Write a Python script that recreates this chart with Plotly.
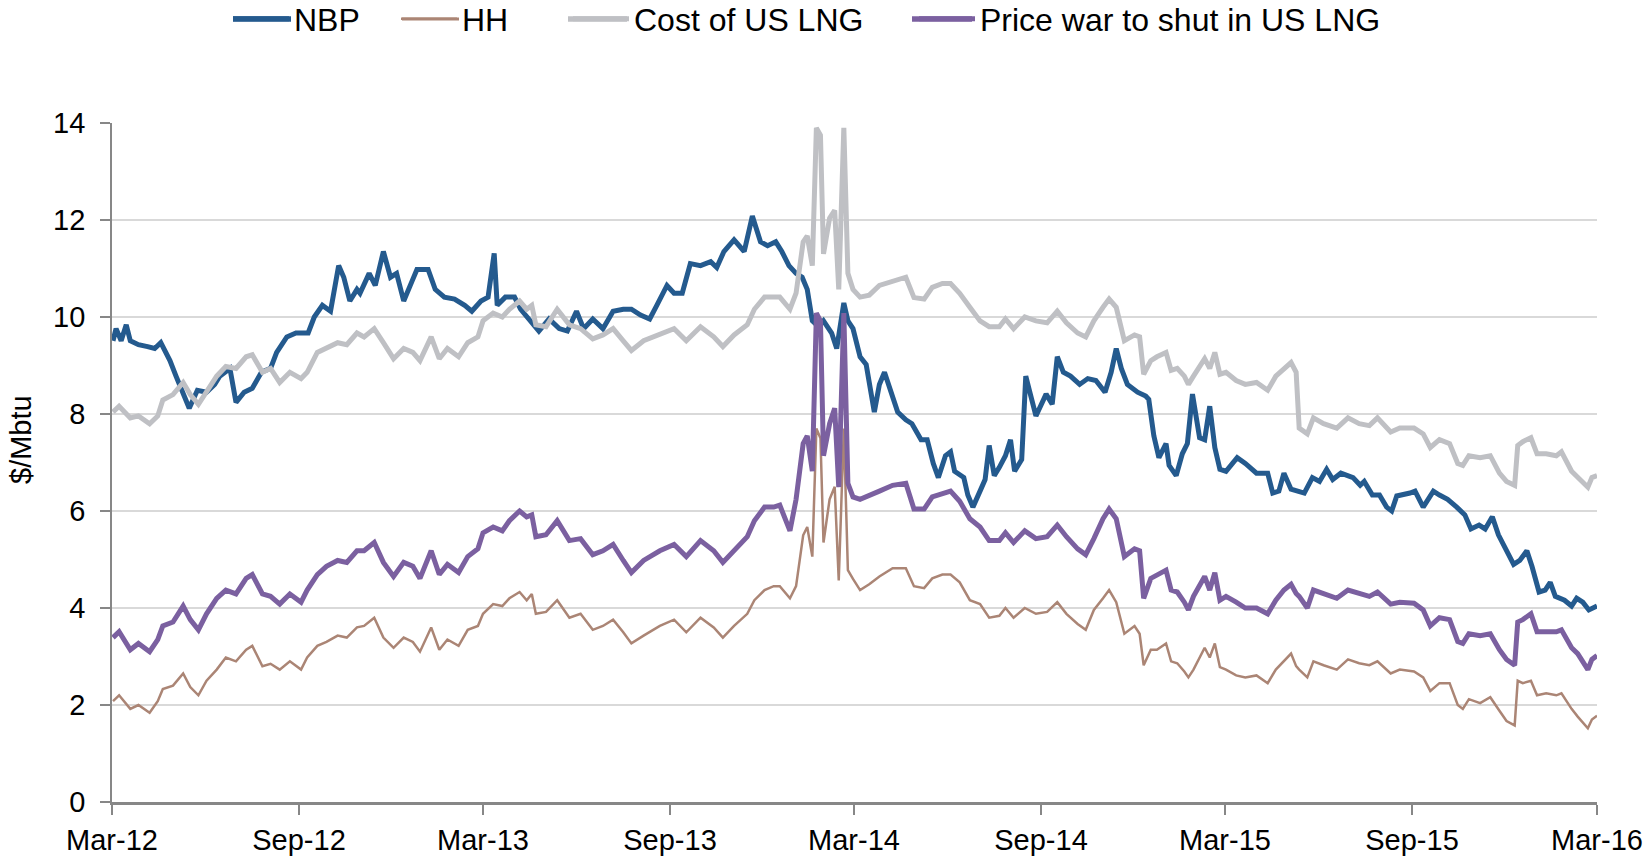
import plotly.graph_objects as go

# ---------------- data ----------------
common_dates = [
    "2012-03-02", "2012-03-08", "2012-03-19", "2012-03-27", "2012-04-07", "2012-04-15", "2012-04-20", "2012-04-30",
    "2012-05-10", "2012-05-17", "2012-05-25", "2012-06-02", "2012-06-12", "2012-06-21", "2012-07-01", "2012-07-11",
    "2012-07-17", "2012-07-27", "2012-08-04", "2012-08-13", "2012-08-23", "2012-09-03", "2012-09-09", "2012-09-19",
    "2012-09-28", "2012-10-09", "2012-10-18", "2012-10-28", "2012-11-04", "2012-11-14", "2012-11-23", "2012-12-03",
    "2012-12-13", "2012-12-22", "2012-12-29", "2013-01-09", "2013-01-17", "2013-01-25", "2013-02-05", "2013-02-14",
    "2013-02-24", "2013-03-01", "2013-03-11", "2013-03-20", "2013-03-27", "2013-04-06", "2013-04-13", "2013-04-18",
    "2013-04-22", "2013-05-02", "2013-05-13", "2013-05-25", "2013-06-05", "2013-06-17", "2013-06-27", "2013-07-07",
    "2013-07-17", "2013-07-25", "2013-08-06", "2013-08-22", "2013-09-05", "2013-09-17", "2013-10-01", "2013-10-14",
    "2013-10-23", "2013-11-03", "2013-11-16", "2013-11-23", "2013-12-03", "2013-12-12", "2013-12-18", "2013-12-28",
    "2014-01-03", "2014-01-10", "2014-01-14", "2014-01-19", "2014-01-23", "2014-01-27", "2014-01-30", "2014-02-05",
    "2014-02-10", "2014-02-14", "2014-02-19", "2014-02-23", "2014-02-28", "2014-03-07", "2014-03-16", "2014-03-26",
    "2014-04-08", "2014-04-21", "2014-04-29", "2014-05-09", "2014-05-17", "2014-05-27", "2014-06-04", "2014-06-13",
    "2014-06-23", "2014-07-03", "2014-07-12", "2014-07-22", "2014-07-28", "2014-08-05", "2014-08-16", "2014-08-27",
    "2014-09-07", "2014-09-17", "2014-09-26", "2014-10-07", "2014-10-15", "2014-10-23", "2014-11-01", "2014-11-07",
    "2014-11-14", "2014-11-22", "2014-12-02", "2014-12-07", "2014-12-11", "2014-12-18", "2014-12-24", "2015-01-02",
    "2015-01-07", "2015-01-13", "2015-01-20", "2015-01-24", "2015-01-29", "2015-02-09", "2015-02-14", "2015-02-19",
    "2015-02-24", "2015-03-02", "2015-03-12", "2015-03-21", "2015-04-01", "2015-04-12", "2015-04-20", "2015-04-28",
    "2015-05-05", "2015-05-10", "2015-05-13", "2015-05-21", "2015-05-27", "2015-06-06", "2015-06-19", "2015-06-30",
    "2015-07-11", "2015-07-21", "2015-07-29", "2015-08-11", "2015-08-20", "2015-09-03", "2015-09-12", "2015-09-19",
    "2015-09-28", "2015-10-08", "2015-10-16", "2015-10-21", "2015-10-27", "2015-11-07", "2015-11-17", "2015-11-26",
    "2015-12-03", "2015-12-11", "2015-12-14", "2015-12-19", "2015-12-27", "2016-01-02", "2016-01-11", "2016-01-21",
    "2016-01-26", "2016-02-05", "2016-02-11", "2016-02-21", "2016-02-25", "2016-03-01",
]

hh = [
    2.08, 2.20, 1.92, 2.00, 1.84, 2.08, 2.33, 2.40,
    2.65, 2.37, 2.20, 2.50, 2.73, 2.98, 2.90, 3.14,
    3.22, 2.80, 2.85, 2.73, 2.90, 2.73, 2.98, 3.22,
    3.30, 3.43, 3.39, 3.60, 3.63, 3.80, 3.39, 3.18,
    3.39, 3.30, 3.10, 3.60, 3.14, 3.35, 3.22, 3.55,
    3.63, 3.88, 4.08, 4.04, 4.20, 4.33, 4.16, 4.29,
    3.88, 3.92, 4.16, 3.80, 3.88, 3.55, 3.63, 3.76,
    3.50, 3.27, 3.43, 3.63, 3.76, 3.50, 3.80, 3.60,
    3.39, 3.63, 3.88, 4.16, 4.37, 4.45, 4.45, 4.20,
    4.45, 5.50, 5.67, 5.06, 7.70, 7.50, 5.35, 6.24,
    6.50, 4.57, 7.70, 4.78, 4.60, 4.37, 4.49, 4.65,
    4.82, 4.82, 4.45, 4.41, 4.61, 4.69, 4.69, 4.53,
    4.16, 4.08, 3.80, 3.84, 4.00, 3.80, 4.00, 3.88,
    3.92, 4.12, 3.88, 3.67, 3.55, 3.96, 4.20, 4.37,
    4.12, 3.47, 3.63, 3.47, 2.82, 3.14, 3.14, 3.27,
    2.90, 2.86, 2.69, 2.57, 2.73, 3.18, 2.98, 3.27,
    2.78, 2.73, 2.61, 2.57, 2.61, 2.45, 2.73, 2.90,
    3.06, 2.80, 2.73, 2.57, 2.90, 2.82, 2.73, 2.94,
    2.86, 2.82, 2.90, 2.65, 2.73, 2.69, 2.57, 2.29,
    2.45, 2.45, 2.00, 1.92, 2.12, 2.04, 2.16, 1.88,
    1.67, 1.58, 2.50, 2.45, 2.50, 2.20, 2.24, 2.20,
    2.24, 1.92, 1.76, 1.52, 1.70, 1.78,
]

cost_us_lng = [
    8.04, 8.16, 7.92, 7.96, 7.80, 7.96, 8.29, 8.40,
    8.65, 8.40, 8.20, 8.45, 8.78, 8.98, 8.94, 9.18,
    9.22, 8.86, 8.94, 8.65, 8.86, 8.73, 8.86, 9.27,
    9.35, 9.47, 9.43, 9.67, 9.59, 9.76, 9.47, 9.14,
    9.35, 9.27, 9.10, 9.59, 9.14, 9.35, 9.18, 9.47,
    9.59, 9.92, 10.08, 10.00, 10.16, 10.33, 10.16, 10.24,
    9.84, 9.80, 10.16, 9.84, 9.76, 9.55, 9.63, 9.76,
    9.51, 9.31, 9.51, 9.63, 9.76, 9.51, 9.80, 9.59,
    9.39, 9.63, 9.84, 10.16, 10.41, 10.41, 10.41, 10.16,
    10.49, 11.55, 11.67, 11.06, 13.90, 13.75, 11.30, 12.04,
    12.20, 10.57, 13.90, 10.90, 10.57, 10.41, 10.45, 10.65,
    10.73, 10.82, 10.40, 10.37, 10.61, 10.69, 10.69, 10.49,
    10.20, 9.92, 9.80, 9.80, 9.96, 9.76, 10.00, 9.92,
    9.88, 10.12, 9.88, 9.67, 9.59, 9.92, 10.20, 10.37,
    10.20, 9.51, 9.63, 9.59, 8.82, 9.10, 9.18, 9.27,
    8.90, 8.94, 8.78, 8.61, 8.78, 9.14, 8.94, 9.27,
    8.82, 8.86, 8.69, 8.61, 8.65, 8.49, 8.78, 8.94,
    9.06, 8.86, 7.71, 7.59, 7.92, 7.80, 7.71, 7.92,
    7.80, 7.76, 7.92, 7.63, 7.71, 7.71, 7.59, 7.31,
    7.47, 7.39, 6.98, 6.94, 7.14, 7.10, 7.14, 6.78,
    6.61, 6.53, 7.35, 7.43, 7.51, 7.18, 7.18, 7.14,
    7.22, 6.82, 6.69, 6.49, 6.69, 6.73,
]

price_war = [
    3.39, 3.51, 3.14, 3.27, 3.10, 3.35, 3.63, 3.71,
    4.04, 3.76, 3.55, 3.88, 4.20, 4.37, 4.29, 4.61,
    4.69, 4.29, 4.24, 4.08, 4.29, 4.12, 4.37, 4.69,
    4.86, 4.98, 4.94, 5.18, 5.18, 5.35, 4.94, 4.65,
    4.94, 4.86, 4.61, 5.18, 4.69, 4.90, 4.73, 5.06,
    5.22, 5.55, 5.67, 5.59, 5.80, 6.00, 5.88, 5.92,
    5.47, 5.51, 5.80, 5.39, 5.43, 5.10, 5.18, 5.31,
    4.98, 4.73, 4.98, 5.18, 5.31, 5.06, 5.39, 5.18,
    4.94, 5.18, 5.47, 5.80, 6.08, 6.08, 6.12, 5.59,
    6.24, 7.39, 7.55, 6.82, 10.08, 9.92, 7.14, 7.80,
    8.12, 6.49, 10.08, 6.57, 6.29, 6.24, 6.33, 6.41,
    6.53, 6.57, 6.04, 6.04, 6.29, 6.37, 6.41, 6.20,
    5.84, 5.67, 5.39, 5.39, 5.55, 5.35, 5.59, 5.43,
    5.47, 5.71, 5.47, 5.22, 5.10, 5.43, 5.84, 6.04,
    5.84, 5.06, 5.22, 5.18, 4.20, 4.61, 4.69, 4.78,
    4.37, 4.33, 4.12, 3.96, 4.24, 4.65, 4.37, 4.73,
    4.16, 4.24, 4.12, 4.00, 4.00, 3.88, 4.16, 4.37,
    4.49, 4.30, 4.24, 4.00, 4.37, 4.29, 4.20, 4.37,
    4.29, 4.24, 4.33, 4.08, 4.12, 4.10, 3.96, 3.63,
    3.80, 3.76, 3.31, 3.27, 3.47, 3.43, 3.47, 3.14,
    2.94, 2.82, 3.71, 3.76, 3.88, 3.51, 3.51, 3.51,
    3.55, 3.18, 3.06, 2.73, 2.94, 3.02,
]

nbp_dates = [
    "2012-03-02", "2012-03-05", "2012-03-10", "2012-03-15", "2012-03-19", "2012-03-27", "2012-04-05", "2012-04-12",
    "2012-04-18", "2012-04-27", "2012-05-03", "2012-05-10", "2012-05-16", "2012-05-24", "2012-06-02", "2012-06-10",
    "2012-06-15", "2012-06-25", "2012-07-01", "2012-07-09", "2012-07-17", "2012-07-26", "2012-08-04", "2012-08-10",
    "2012-08-20", "2012-08-29", "2012-09-10", "2012-09-16", "2012-09-24", "2012-10-02", "2012-10-10", "2012-10-15",
    "2012-10-21", "2012-10-28", "2012-10-31", "2012-11-09", "2012-11-15", "2012-11-23", "2012-11-30", "2012-12-06",
    "2012-12-13", "2012-12-21", "2012-12-26", "2013-01-06", "2013-01-13", "2013-01-22", "2013-02-01", "2013-02-11",
    "2013-02-18", "2013-02-27", "2013-03-06", "2013-03-12", "2013-03-15", "2013-03-23", "2013-04-01", "2013-04-07",
    "2013-04-15", "2013-04-25", "2013-05-05", "2013-05-15", "2013-05-23", "2013-06-01", "2013-06-08", "2013-06-17",
    "2013-06-27", "2013-07-07", "2013-07-17", "2013-07-25", "2013-08-03", "2013-08-12", "2013-08-19", "2013-08-29",
    "2013-09-05", "2013-09-13", "2013-09-21", "2013-10-01", "2013-10-11", "2013-10-17", "2013-10-24", "2013-11-03",
    "2013-11-13", "2013-11-21", "2013-11-29", "2013-12-06", "2013-12-14", "2013-12-20", "2013-12-27", "2014-01-03",
    "2014-01-09", "2014-01-14", "2014-01-19", "2014-01-25", "2014-01-30", "2014-02-07", "2014-02-12", "2014-02-16",
    "2014-02-19", "2014-02-23", "2014-02-28", "2014-03-07", "2014-03-13", "2014-03-21", "2014-03-26", "2014-03-31",
    "2014-04-05", "2014-04-13", "2014-04-21", "2014-04-27", "2014-05-06", "2014-05-12", "2014-05-18", "2014-05-23",
    "2014-05-30", "2014-06-04", "2014-06-08", "2014-06-17", "2014-06-21", "2014-06-26", "2014-07-03", "2014-07-08",
    "2014-07-12", "2014-07-17", "2014-07-22", "2014-07-28", "2014-08-02", "2014-08-06", "2014-08-13", "2014-08-17",
    "2014-08-21", "2014-08-27", "2014-09-06", "2014-09-12", "2014-09-17", "2014-09-23", "2014-09-30", "2014-10-09",
    "2014-10-17", "2014-10-25", "2014-11-03", "2014-11-09", "2014-11-14", "2014-11-19", "2014-11-25", "2014-12-05",
    "2014-12-13", "2014-12-16", "2014-12-21", "2014-12-26", "2015-01-02", "2015-01-05", "2015-01-12", "2015-01-18",
    "2015-01-23", "2015-01-28", "2015-02-04", "2015-02-09", "2015-02-14", "2015-02-19", "2015-02-24", "2015-03-02",
    "2015-03-13", "2015-03-21", "2015-04-01", "2015-04-12", "2015-04-17", "2015-04-23", "2015-04-28", "2015-05-05",
    "2015-05-18", "2015-05-26", "2015-06-02", "2015-06-09", "2015-06-15", "2015-06-23", "2015-07-05", "2015-07-12",
    "2015-07-16", "2015-07-24", "2015-07-31", "2015-08-07", "2015-08-12", "2015-08-17", "2015-08-30", "2015-09-04",
    "2015-09-12", "2015-09-22", "2015-09-28", "2015-10-06", "2015-10-15", "2015-10-23", "2015-10-29", "2015-11-06",
    "2015-11-12", "2015-11-19", "2015-11-25", "2015-12-03", "2015-12-10", "2015-12-16", "2015-12-23", "2015-12-28",
    "2016-01-04", "2016-01-10", "2016-01-15", "2016-01-20", "2016-01-29", "2016-02-05", "2016-02-10", "2016-02-16",
    "2016-02-22", "2016-03-01",
]

nbp = [
    9.51, 9.76, 9.51, 9.84, 9.51, 9.43, 9.39, 9.35,
    9.47, 9.10, 8.78, 8.41, 8.12, 8.49, 8.45, 8.61,
    8.78, 8.94, 8.24, 8.45, 8.53, 8.86, 8.94, 9.27,
    9.59, 9.67, 9.67, 10.00, 10.24, 10.12, 11.06, 10.82,
    10.33, 10.57, 10.49, 10.90, 10.65, 11.35, 10.82, 10.90,
    10.33, 10.73, 10.98, 10.98, 10.57, 10.41, 10.37, 10.24,
    10.12, 10.33, 10.41, 11.31, 10.24, 10.41, 10.41, 10.16,
    9.96, 9.71, 9.96, 9.76, 9.71, 10.12, 9.76, 9.96,
    9.76, 10.12, 10.16, 10.16, 10.04, 9.96, 10.24, 10.65,
    10.49, 10.49, 11.10, 11.06, 11.14, 11.02, 11.35, 11.59,
    11.35, 12.08, 11.55, 11.47, 11.55, 11.35, 11.06, 10.90,
    10.82, 10.57, 9.92, 9.80, 9.92, 9.67, 9.35, 10.00,
    10.29, 9.92, 9.76, 9.18, 9.02, 8.04, 8.61, 8.86,
    8.53, 8.04, 7.88, 7.80, 7.47, 7.47, 6.98, 6.69,
    7.14, 7.22, 6.82, 6.69, 6.33, 6.08, 6.41, 6.65,
    7.35, 6.73, 6.90, 7.14, 7.47, 6.82, 7.06, 8.78,
    8.45, 7.96, 8.41, 8.20, 9.18, 8.86, 8.78, 8.61,
    8.73, 8.69, 8.45, 8.86, 9.35, 8.94, 8.61, 8.45,
    8.37, 8.30, 7.55, 7.10, 7.39, 6.94, 6.73, 7.18,
    7.39, 8.41, 7.51, 7.47, 8.16, 7.31, 6.86, 6.82,
    7.10, 6.98, 6.78, 6.78, 6.37, 6.41, 6.78, 6.45,
    6.37, 6.69, 6.61, 6.86, 6.65, 6.78, 6.69, 6.53,
    6.61, 6.33, 6.33, 6.08, 6.00, 6.31, 6.37, 6.41,
    6.08, 6.41, 6.33, 6.24, 6.08, 5.92, 5.63, 5.71,
    5.63, 5.88, 5.51, 5.18, 4.90, 4.98, 5.18, 4.86,
    4.33, 4.37, 4.53, 4.24, 4.16, 4.04, 4.20, 4.12,
    3.96, 4.04,
]

series_names = ["NBP", "HH", "Cost of US LNG", "Price war to shut in US LNG"]

tick_dates = ["2012-03-01", "2012-09-01", "2013-03-01", "2013-09-01", "2014-03-01",
              "2014-09-01", "2015-03-01", "2015-09-01", "2016-03-01"]
tick_labels = ["Mar-12", "Sep-12", "Mar-13", "Sep-13", "Mar-14",
               "Sep-14", "Mar-15", "Sep-15", "Mar-16"]

# ---------------- styling ----------------
FONT = "Liberation Sans, Arial, sans-serif"
AXIS_GREY = "#878787"
COLORS = ["#245A8E", "#AB8575", "#BFC0C4", "#7B60A0"]
WIDTHS = [5, 2.5, 5, 5]

W, H = 1648, 860
M_L, M_R, M_T, M_B = 112, 51, 123, 58
PLOT_W = W - M_L - M_R
PLOT_H = H - M_T - M_B

# legend layout (pixels in the page): sample-line start, sample-line end, text start
LEG_LINE_START = [233, 402, 568, 912]
LEG_LINE_END = [291, 459, 627, 972]
LEG_TEXT_START = [294, 462, 634, 980]
LEG_Y = 19
ITEMWIDTH = 56
TEXT_OFFSET = ITEMWIDTH + 10  # distance from legend box left to text start


def px_to_paper_x(px):
    return (px - M_L) / PLOT_W


def px_to_paper_y(py):
    return (H - M_B - py) / PLOT_H


fig = go.Figure()
xs = [nbp_dates, common_dates, common_dates, common_dates]
ys = [nbp, hh, cost_us_lng, price_war]
legend_ids = ["legend", "legend2", "legend3", "legend4"]
for name, x, y, c, w, lid in zip(series_names, xs, ys, COLORS, WIDTHS, legend_ids):
    fig.add_trace(go.Scatter(x=x, y=y, name=name, mode="lines",
                             line=dict(color=c, width=w), legend=lid))

legend_layouts = {}
for i, lid in enumerate(legend_ids):
    legend_layouts[lid] = dict(
        orientation="h", xref="container", yref="container",
        x=(LEG_TEXT_START[i] - TEXT_OFFSET) / W, xanchor="left",
        y=1 - LEG_Y / H, yanchor="middle",
        font=dict(family=FONT, size=32, color="#000000"),
        itemwidth=ITEMWIDTH, bgcolor="rgba(0,0,0,0)", borderwidth=0,
    )

shapes = []
for i in range(4):
    shapes.append(dict(type="line", xref="paper", yref="paper",
                       x0=px_to_paper_x(LEG_LINE_START[i]), x1=px_to_paper_x(LEG_LINE_END[i]),
                       y0=px_to_paper_y(LEG_Y), y1=px_to_paper_y(LEG_Y),
                       line=dict(color=COLORS[i], width=WIDTHS[i] + 0.5)))

fig.update_layout(
    width=W, height=H,
    margin=dict(l=M_L, r=M_R, t=M_T, b=M_B),
    paper_bgcolor="white", plot_bgcolor="white",
    font=dict(family=FONT, size=29, color="#000000"),
    showlegend=True,
    **legend_layouts,
    shapes=shapes,
    xaxis=dict(type="date", range=["2012-03-01", "2016-03-01"], tickmode="array",
               tickvals=tick_dates, ticktext=tick_labels, showgrid=False, zeroline=False,
               showline=True, linecolor=AXIS_GREY, linewidth=2.5, ticks="outside", ticklen=10,
               tickwidth=1.5, tickcolor=AXIS_GREY, tickfont=dict(size=29), automargin=False),
    yaxis=dict(range=[0, 14], dtick=2, tick0=0, showgrid=True, gridcolor="#D9D9D9", gridwidth=1.5,
               zeroline=False, showline=True, linecolor=AXIS_GREY, linewidth=1.8, ticks="outside",
               ticklen=10, tickwidth=1.5, tickcolor=AXIS_GREY, tickfont=dict(size=29),
               ticklabelstandoff=9, automargin=False),
    annotations=[dict(text="$/Mbtu", textangle=-90, xref="paper", yref="paper",
                      x=px_to_paper_x(21), y=px_to_paper_y(440), xanchor="center", yanchor="middle",
                      showarrow=False, font=dict(family=FONT, size=29, color="#000000"))],
)

fig.write_html("out.html", config={"displayModeBar": False},
               post_script="document.body.style.margin='0';document.body.style.overflow='hidden';")
